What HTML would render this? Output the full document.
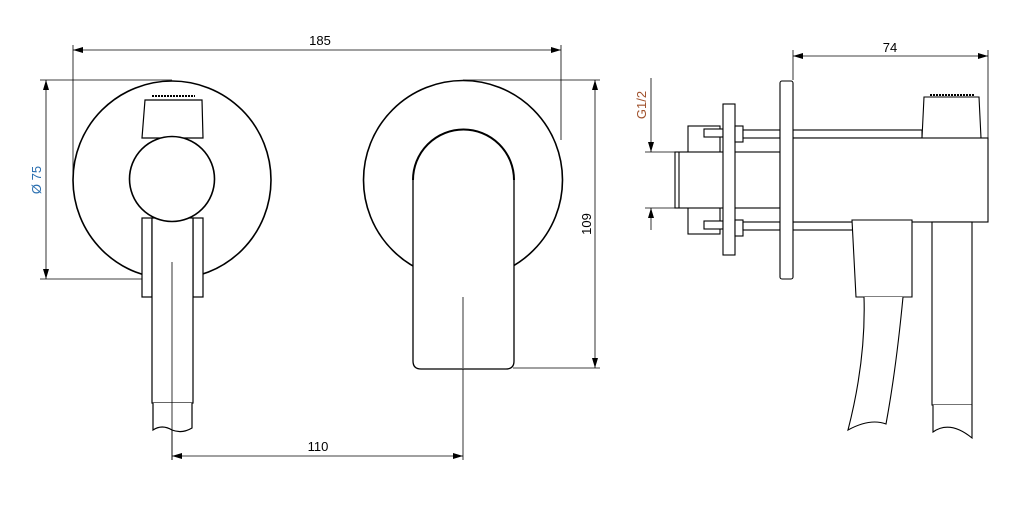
<!DOCTYPE html>
<html><head><meta charset="utf-8"><style>
html,body{margin:0;padding:0;background:#fff;}
svg{display:block;}
text{font-family:"Liberation Sans",sans-serif;font-size:13px;}
</style></head><body>
<svg width="1018" height="514" viewBox="0 0 1018 514" xmlns="http://www.w3.org/2000/svg">
<defs>
<marker id="a" viewBox="0 0 10 6" refX="10" refY="3" markerWidth="10" markerHeight="6" orient="auto-start-reverse" markerUnits="userSpaceOnUse"><path d="M0,0 L10,3 L0,6 z" fill="#000"/></marker>
</defs>
<g fill="none" stroke="#000" stroke-width="0.8">
<!-- dims left -->
<line x1="73" y1="45" x2="73" y2="180"/>
<line x1="561" y1="45" x2="561" y2="140"/>
<line x1="73" y1="50" x2="561" y2="50" marker-start="url(#a)" marker-end="url(#a)"/>
<line x1="40" y1="80" x2="172" y2="80"/>
<line x1="40" y1="279" x2="167" y2="279"/>
<line x1="46" y1="80" x2="46" y2="279" marker-start="url(#a)" marker-end="url(#a)"/>
<line x1="172" y1="262" x2="172" y2="460"/>
<line x1="463" y1="297" x2="463" y2="460"/>
<line x1="172" y1="456" x2="463" y2="456" marker-start="url(#a)" marker-end="url(#a)"/>
<line x1="463" y1="80" x2="600" y2="80"/>
<line x1="513" y1="368" x2="600" y2="368"/>
<line x1="595" y1="80" x2="595" y2="368" marker-start="url(#a)" marker-end="url(#a)"/>
</g>
<!-- left view -->
<g fill="#fff" stroke="#000" stroke-width="1.6">
<circle cx="172" cy="180" r="99"/>
<path d="M145,100 L202,100 L203,138 L142,138 Z" stroke-width="1.2"/>
<rect x="142" y="218" width="10" height="79" stroke-width="1.2"/>
<rect x="193" y="218" width="10" height="79" stroke-width="1.2"/>
<rect x="152" y="218" width="41" height="185" stroke-width="1.2"/>
<path d="M153,403 L153,430 Q162,424 172,430 Q182,434 192,428 L192,403" stroke-width="1.2"/>
<circle cx="172" cy="179" r="42.5"/>
</g>
<line x1="172" y1="262" x2="172" y2="460" stroke="#000" stroke-width="0.8"/>
<path d="M152,96 L195,96" stroke="#000" stroke-width="2" stroke-dasharray="2,1"/>
<!-- middle view -->
<g fill="#fff" stroke="#000" stroke-width="1.6">
<circle cx="463" cy="180" r="99.5"/>
<path d="M413,180 A50,50 0 0 1 514,180 L514,361 Q514,369 506,369 L421,369 Q413,369 413,361 Z" stroke-width="1.3"/>
<path d="M413,180 A50,50 0 0 1 514,180" stroke-width="2"/>
</g>
<line x1="463" y1="297" x2="463" y2="368" stroke="#000" stroke-width="0.8"/>
<!-- right view -->
<g fill="#fff" stroke="#000" stroke-width="1.1">
<rect x="688" y="126" width="32" height="108"/>
<rect x="675" y="152" width="105" height="56"/>
<line x1="679" y1="152" x2="679" y2="208"/>
<rect x="704" y="129" width="19" height="8"/>
<rect x="704" y="221" width="19" height="8"/>
<rect x="723" y="104" width="12" height="151"/>
<rect x="735" y="126" width="8" height="16"/>
<rect x="735" y="220" width="8" height="16"/>
<rect x="743" y="130" width="37" height="8"/>
<rect x="743" y="222" width="37" height="8"/>
<rect x="793" y="130" width="129" height="8"/>
<rect x="793" y="222" width="60" height="8"/>
<path d="M922,138 L924,97 L979,97 L981,138 Z"/>
<rect x="793" y="138" width="195" height="84"/>
<path d="M852,220 L912,220 L912,297 L856,297 Z"/>
<path d="M864,297 Q866,360 848,430 Q870,418 886,424 Q896,370 903,297"/>
<rect x="932" y="222" width="40" height="183"/>
<path d="M933,405 L933,432 Q950,420 972,438 L972,405"/>
<rect x="780" y="81" width="13" height="198" rx="2"/>
</g>
<path d="M930,95 L975,95" stroke="#000" stroke-width="2" stroke-dasharray="2,1"/>
<g fill="none" stroke="#000" stroke-width="0.8">
<line x1="793" y1="50" x2="793" y2="80"/>
<line x1="988" y1="50" x2="988" y2="140"/>
<line x1="793" y1="56" x2="988" y2="56" marker-start="url(#a)" marker-end="url(#a)"/>
<line x1="645" y1="152" x2="680" y2="152"/>
<line x1="645" y1="208" x2="680" y2="208"/>
<line x1="651" y1="78" x2="651" y2="152" marker-end="url(#a)"/>
<line x1="651" y1="230" x2="651" y2="208" marker-end="url(#a)"/>
</g>
<text x="320" y="45" text-anchor="middle">185</text>
<text x="318" y="451" text-anchor="middle">110</text>
<text x="890" y="52" text-anchor="middle">74</text>
<text transform="translate(591,224) rotate(-90)" text-anchor="middle">109</text>
<text transform="translate(41,180) rotate(-90)" text-anchor="middle" fill="#2a6fb0">Ø 75</text>
<text transform="translate(646,105) rotate(-90)" text-anchor="middle" fill="#a0522d">G1/2</text>
</svg>
</body></html>
